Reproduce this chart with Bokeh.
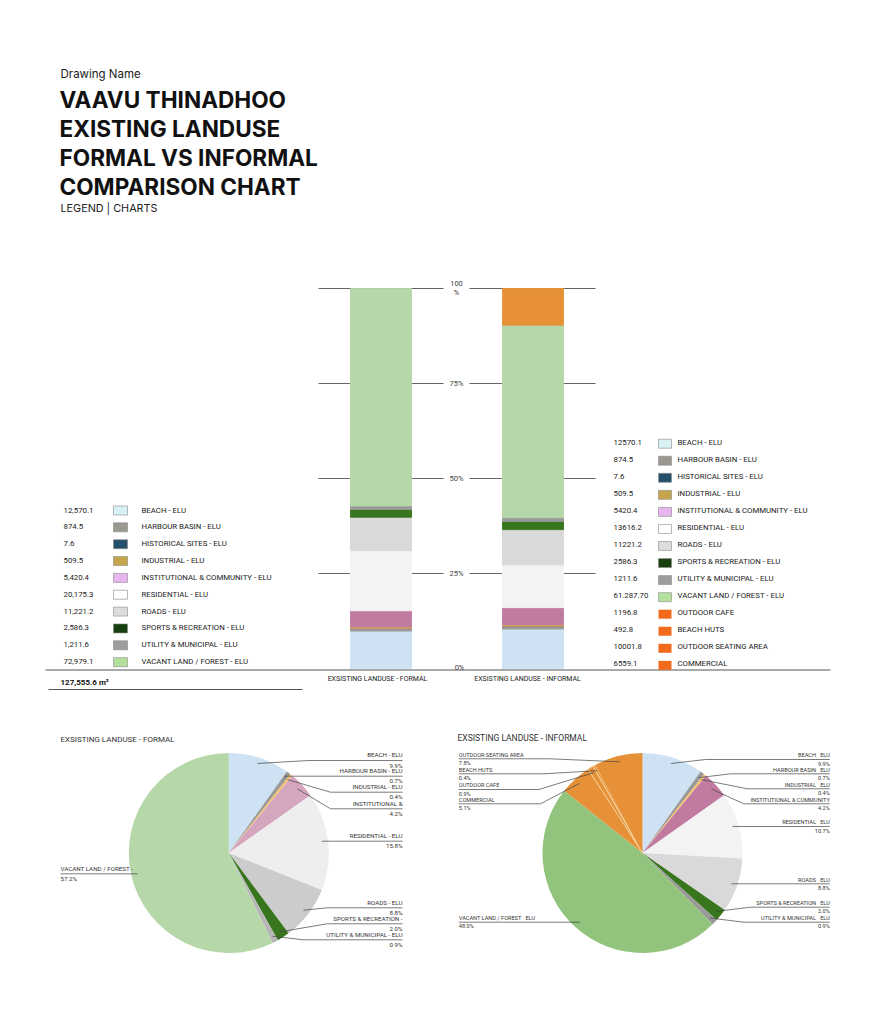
import numpy as np
from bokeh.plotting import figure
from bokeh.models import Range1d
from bokeh.core.properties import value
from bokeh.embed import file_html
from bokeh.resources import INLINE

# ---------------- DATA ----------------
categories = ["BEACH - ELU", "HARBOUR BASIN - ELU", "HISTORICAL SITES - ELU", "INDUSTRIAL - ELU",
              "INSTITUTIONAL & COMMUNITY - ELU", "RESIDENTIAL - ELU", "ROADS - ELU",
              "SPORTS & RECREATION - ELU", "UTILITY & MUNICIPAL - ELU", "VACANT LAND / FOREST - ELU"]
formal_values = [12570.1, 874.5, 7.6, 509.5, 5420.4, 20175.3, 11221.2, 2586.3, 1211.6, 72979.1]
formal_value_labels = ["12,570.1", "874.5", "7.6", "509.5", "5,420.4", "20,175.3", "11,221.2",
                       "2,586.3", "1,211.6", "72,979.1"]
formal_total_label = "127,555.6 m²"

informal_categories = categories + ["OUTDOOR CAFE", "BEACH HUTS", "OUTDOOR SEATING AREA", "COMMERCIAL"]
informal_values = [12570.1, 874.5, 7.6, 509.5, 5420.4, 13616.2, 11221.2, 2586.3, 1211.6, 61287.70,
                   1196.8, 492.8, 10001.8, 6559.1]
informal_value_labels = ["12570.1", "874.5", "7.6", "509.5", "5420.4", "13616.2", "11221.2", "2586.3",
                         "1211.6", "61.287.70", "1196.8", "492.8", "10001.8", "6559.1"]
# the informal bar is drawn without COMMERCIAL (as in the reference)
informal_bar_order = [0, 1, 2, 3, 4, 5, 6, 7, 8, 9, 10, 11, 12]
# informal pie slice order (clockwise from 12 o'clock)
informal_pie_order = [0, 1, 2, 3, 4, 5, 6, 7, 8, 9, 13, 10, 11, 12]

pct_ticks = [25, 50, 75, 100]
pct_tick_labels = ["25%", "50%", "75%", "100\n%"]
zero_label = "0%"
bar_labels = ["EXSISTING LANDUSE - FORMAL", "EXSISTING LANDUSE - INFORMAL"]

title_lines = ["VAAVU THINADHOO", "EXISTING LANDUSE", "FORMAL VS INFORMAL", "COMPARISON CHART"]
formal_pie_title = "EXSISTING LANDUSE - FORMAL"
informal_pie_title = "EXSISTING LANDUSE - INFORMAL"
SP = "\u00a0\u00a0\u00a0"
formal_pie_names = {0: "BEACH - ELU", 1: "HARBOUR BASIN - ELU", 3: "INDUSTRIAL - ELU", 4: "INSTITUTIONAL &",
                    5: "RESIDENTIAL - ELU", 6: "ROADS - ELU", 7: "SPORTS & RECREATION -",
                    8: "UTILITY & MUNICIPAL - ELU", 9: "VACANT LAND / FOREST -"}
informal_pie_names = {0: "BEACH" + SP + "ELU", 1: "HARBOUR BASIN" + SP + "ELU", 3: "INDUSTRIAL" + SP + "ELU",
                      4: "INSTITUTIONAL & COMMUNITY", 5: "RESIDENTIAL" + SP + "ELU", 6: "ROADS" + SP + "ELU",
                      7: "SPORTS & RECREATION" + SP + "ELU", 8: "UTILITY & MUNICIPAL" + SP + "ELU",
                      9: "VACANT LAND / FOREST" + SP + "ELU", 12: "OUTDOOR SEATING AREA", 11: "BEACH HUTS",
                      10: "OUTDOOR CAFE", 13: "COMMERCIAL"}

# ---------------- STYLES ----------------
legend_colors = ["#d8f1f4", "#9a9890", "#24506e", "#c4a54a", "#e8b6ef", "#ffffff", "#dcdcdc",
                 "#183f0e", "#9c9c9c", "#b3e09b", "#f26a1b", "#f26a1b", "#f26a1b", "#f26a1b"]
bar_colors = ["#cfe2f3", "#999999", "#1f4e79", "#d9a15a", "#c27ba0", "#f3f3f3", "#d9d9d9",
              "#38761d", "#999999", "#b6d7a8", "#e69138", "#e69138", "#e69138", "#e69138"]
formal_pie_colors = ["#cfe2f3", "#999999", "#1f4e79", "#f6c26b", "#d5a6bd", "#eeeeee", "#cccccc",
                     "#38761d", "#b7b7b7", "#b6d7a8"]
informal_pie_colors = ["#cfe2f3", "#999999", "#1f4e79", "#f6c26b", "#c27ba0", "#f3f3f3", "#d9d9d9",
                       "#38761d", "#999999", "#93c47d", "#e69138", "#e69138", "#e69138", "#e69138"]

W, H = 875, 1008
FONT = "Roboto"
HEAD = "Inter"

# data units = page pixels (y negated)
p = figure(width=W, height=H, x_range=Range1d(0, W), y_range=Range1d(-H, 0),
           output_backend="svg", toolbar_location=None, title=None,
           x_axis_location=None, y_axis_location=None, min_border=0)
p.outline_line_color = None
p.xgrid.visible = False
p.ygrid.visible = False
p.background_fill_color = "white"

# percent scale for the stacked bars: 100% at page row 288, 0% at 668
Y100, Y0 = 288.0, 668.0
ppx = (Y0 - Y100) / 100.0
p.extra_y_ranges = {"pct": Range1d(start=-(H - Y0) / ppx, end=Y0 / ppx)}


def txt(x, y, s, size, color="#222", align="left", baseline="middle", font=FONT, style="normal"):
    p.text(x=[x], y=[-y], text=[s], text_font=value(font), text_font_size=f"{size}px",
           text_color=color, text_align=align, text_baseline=baseline, text_font_style=style)


def seg(x0, y0, x1, y1, color="#555", w=1.0):
    p.segment(x0=[x0], y0=[-y0], x1=[x1], y1=[-y1], line_color=color, line_width=w)


# ---------------- TITLE ----------------
txt(60, 73.5, "Drawing Name", 11.5, "#222", font=HEAD)
for i, line in enumerate(title_lines):
    txt(59, 98.6 + 29.1 * i, line, 22.6, "#111", font=HEAD, style="bold")
txt(60, 207.8, "LEGEND | CHARTS", 10.8, "#222", font=HEAD)

# ---------------- BAR CHART ----------------
for t, lab in zip(pct_ticks, pct_tick_labels):
    p.segment(x0=[318, 469], x1=[443, 595], y0=[t, t], y1=[t, t], y_range_name="pct",
              line_color="#666", line_width=1)
    parts = lab.split("\n")
    if len(parts) == 1:
        p.text(x=[456], y=[t], text=[lab], y_range_name="pct", text_font=value(FONT),
               text_font_size="7.5px", text_color="#444", text_align="center", text_baseline="middle")
    else:
        p.text(x=[456, 456], y=[t, t], x_offset=[0, 0], y_offset=[-5, 4], text=parts, y_range_name="pct",
               text_font=value(FONT), text_font_size="7.5px", text_color="#444",
               text_align="center", text_baseline="middle")


def stacked(vals, order, xc):
    v = np.array([vals[i] for i in order], float)
    pct = v / v.sum() * 100.0
    top = np.cumsum(pct)
    bottom = top - pct
    cols = [bar_colors[i] for i in order]
    p.vbar(x=[xc] * len(order), width=61, bottom=bottom, top=top, y_range_name="pct",
           fill_color=cols, line_color=cols, line_width=0.9)


stacked(formal_values, list(range(10)), 380.5)
stacked(informal_values, informal_bar_order, 532.5)

p.text(x=[459], y=[0], text=[zero_label], y_range_name="pct", y_offset=[-1.5], text_font=value(FONT),
       text_font_size="7.5px", text_color="#444", text_align="center", text_baseline="middle")
txt(377, 678, bar_labels[0], 7, "#222", align="center")
txt(527, 678, bar_labels[1], 7, "#222", align="center")

# long base line and total line
seg(45, 669.5, 830, 669.5, "#555", 1)
seg(48, 689, 302, 689, "#555", 1)
txt(60, 681.5, formal_total_label, 8, "#111", style="bold")

# ---------------- LEGENDS ----------------
for i, (lab, val) in enumerate(zip(categories, formal_value_labels)):
    yy = 509.5 + i * 16.85
    txt(63, yy, val, 7.8, "#222")
    p.rect(x=[120], y=[-(yy + 0.5)], width=14, height=9, fill_color=legend_colors[i],
           line_color="#8a8a8a", line_width=0.6)
    txt(141, yy, lab, 7.8, "#222")

for i, (lab, val) in enumerate(zip(informal_categories, informal_value_labels)):
    yy = 441.7 + i * 17.05
    txt(613, yy, val, 7.8, "#222")
    p.rect(x=[664.5], y=[-(yy + 1.5)], width=13, height=9, fill_color=legend_colors[i],
           line_color="#8a8a8a" if i < 10 else None, line_width=0.6)
    txt(677, yy, lab, 7.8, "#222")


# ---------------- PIES ----------------
def pie(vals, order, colors, cx, cy, r, names, layout, name_size, thin_border=()):
    v = np.array([vals[i] for i in order], float)
    frac = v / v.sum()
    end = np.cumsum(frac)
    start = end - frac
    a0 = np.pi / 2 - 2 * np.pi * start
    a1 = np.pi / 2 - 2 * np.pi * end
    for k, idx in enumerate(order):
        lc = "#f7dcaa" if idx in thin_border else None
        p.wedge(x=[cx], y=[-cy], radius=r, radius_units="screen", start_angle=[a0[k]], end_angle=[a1[k]],
                direction="clock", fill_color=colors[idx], line_color=lc, line_width=0.8)
    for k, idx in enumerate(order):
        if idx not in layout:
            continue
        side, ly, ex, tx = layout[idx]
        mid = 2 * np.pi * (start[k] + frac[k] / 2)
        sx = cx + 0.94 * r * np.sin(mid)
        sy = cy - 0.94 * r * np.cos(mid)
        if ex is None:
            ex = sx
        p.line(x=[sx, ex, tx], y=[-sy, -ly, -ly], line_color="#444", line_width=0.7)
        al = "right" if side == "R" else "left"
        txt(tx, ly - 1.3, names[idx], name_size, "#333", align=al, baseline="bottom")
        txt(tx, ly + 1.0, f"{frac[k] * 100:.1f}%", name_size, "#333", align=al, baseline="top")


txt(60, 739, formal_pie_title, 8, "#333")
txt(457, 737.5, informal_pie_title, 8.5, "#333")

formal_layout = {0: ("R", 760, 308, 402), 1: ("R", 775.7, None, 402), 3: ("R", 791.7, 330, 402),
                 4: ("R", 808.3, 330, 402), 5: ("R", 840.7, None, 402), 6: ("R", 907.3, 326.7, 402),
                 7: ("R", 923.3, 326.7, 402), 8: ("R", 939.3, 303, 402), 9: ("L", 873.3, None, 60)}
informal_layout = {0: ("R", 759, 705, 829.3), 1: ("R", 773.3, 730, 829.3), 3: ("R", 788.3, 746.7, 829.3),
                   4: ("R", 803.3, 743.3, 829.3), 5: ("R", 826, None, 829.3), 6: ("R", 883.3, None, 829.3),
                   7: ("R", 906.7, 750, 829.3), 8: ("R", 921.7, 743.3, 829.3), 9: ("L", 921.7, None, 458.3),
                   12: ("L", 758.3, 550, 458.3), 11: ("L", 773.3, 543.3, 458.3),
                   10: ("L", 789, 538.3, 458.3), 13: ("L", 803.3, 540, 458.3)}

pie(formal_values, list(range(10)), formal_pie_colors, 228.3, 852.5, 100, formal_pie_names,
    formal_layout, 6.2)
pie(informal_values, informal_pie_order, informal_pie_colors, 642, 852.5, 100, informal_pie_names,
    informal_layout, 5.6, thin_border=(10, 11))

open("out.html", "w").write(file_html(p, INLINE))
